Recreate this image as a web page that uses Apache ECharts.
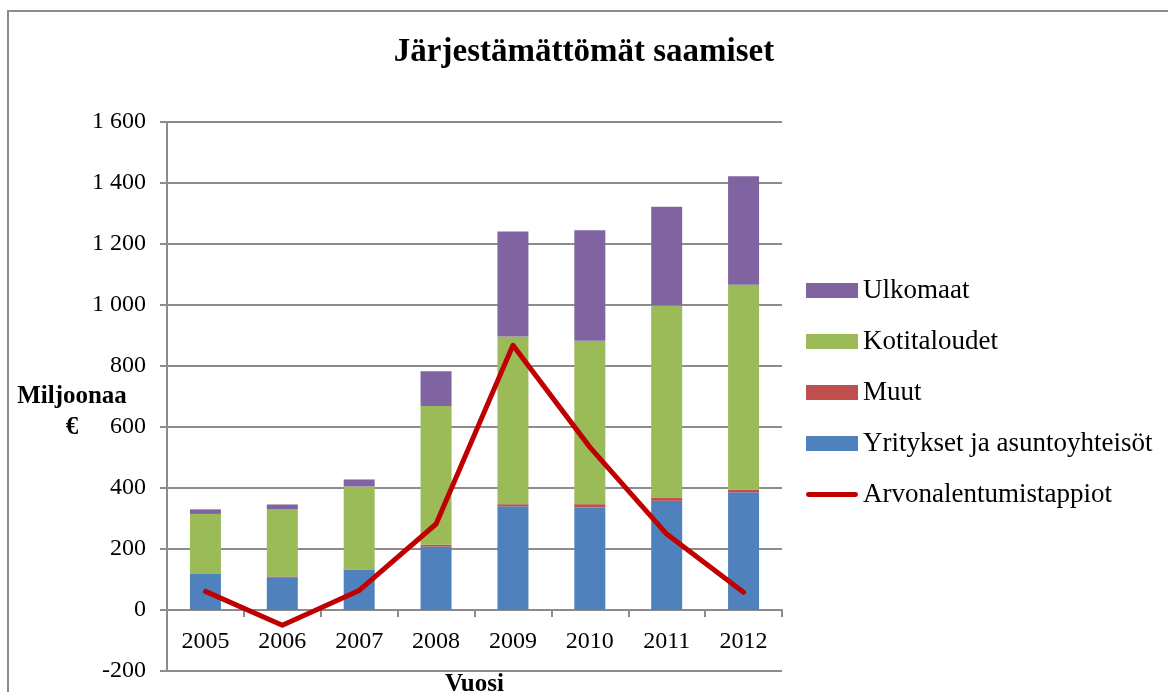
<!DOCTYPE html>
<html style="height: 100%">
   <head>
       <meta charset="utf-8">
   </head>
   <body style="height: 100%; margin: 0; background: #fff">
       <div id="container" style="width: 1168px; height: 692px"></div>
       <script type="text/javascript" src="https://cdn.jsdelivr.net/npm/echarts@6/dist/echarts.min.js"></script>
       <script type="text/javascript">
var years = ['2005', '2006', '2007', '2008', '2009', '2010', '2011', '2012'];
var yritykset = [118, 107, 131, 208, 340, 336, 358, 386];
var muut = [2, 3, 2, 6, 7, 11, 11, 9];
var kotitaloudet = [195, 220, 272, 455, 550, 536, 629, 671];
var ulkomaat = [15, 16, 23, 114, 344, 362, 324, 356];
var arvonalentumistappiot = [61, -50, 64, 282, 868, 534, 249, 58];

var font = 'Liberation Serif';
var dom = document.getElementById("container");
var myChart = echarts.init(dom);
var option = null;

function fmt(v) {
    var s = String(Math.abs(v));
    if (s.length > 3) s = s.slice(0, s.length - 3) + ' ' + s.slice(s.length - 3);
    return (v < 0 ? '-' : '') + s;
}

option = {
    animation: false,
    backgroundColor: '#fff',
    textStyle: { fontFamily: font },
    graphic: [{
        type: 'rect',
        shape: { x: 8, y: 11, width: 1200, height: 720 },
        style: { fill: 'none', stroke: '#8c8c8c', lineWidth: 2 },
        silent: true
    }, {
        // y axis title, wrapped over two lines like the original
        type: 'text',
        x: 72,
        y: 412,
        style: {
            text: 'Miljoonaa\n€',
            font: 'bold 25px "Liberation Serif"',
            fill: '#000',
            align: 'center',
            verticalAlign: 'middle',
            lineHeight: 31
        }
    }],
    title: {
        text: 'Järjestämättömät saamiset',
        left: 'center',
        top: 31,
        textStyle: { fontFamily: font, fontSize: 33, fontWeight: 'bold', color: '#000' }
    },
    legend: {
        orient: 'vertical',
        left: 801,
        top: 272,
        itemWidth: 52,
        itemHeight: 15,
        itemGap: 24,
        textStyle: { fontFamily: font, fontSize: 27, color: '#000' },
        data: [
            { name: 'Ulkomaat', icon: 'rect' },
            { name: 'Kotitaloudet', icon: 'rect' },
            { name: 'Muut', icon: 'rect' },
            { name: 'Yritykset ja asuntoyhteisöt', icon: 'rect' },
            { name: 'Arvonalentumistappiot', icon: 'path://M2,0 L50,0 A2.5,2.5 0 0 1 50,5 L2,5 A2.5,2.5 0 0 1 2,0 Z' }
        ]
    },
    grid: { left: 167, right: 386, top: 122, bottom: 21, containLabel: false, outerBoundsMode: 'none' },
    xAxis: {
        type: 'category',
        data: years,
        name: 'Vuosi',
        nameLocation: 'middle',
        nameGap: 1,
        nameTextStyle: { fontFamily: font, fontSize: 25, fontWeight: 'bold', color: '#000' },
        axisLine: { onZero: true, lineStyle: { color: '#8c8c8c', width: 2 } },
        axisTick: { show: true, length: 7, lineStyle: { color: '#8c8c8c', width: 2 } },
        axisLabel: { fontFamily: font, fontSize: 24, color: '#000', margin: -41 }
    },
    yAxis: {
        type: 'value',
        min: -200,
        max: 1600,
        interval: 200,
        axisLine: { show: true, lineStyle: { color: '#8c8c8c', width: 2 } },
        axisTick: { show: true, length: 7, lineStyle: { color: '#8c8c8c', width: 2 } },
        axisLabel: { fontFamily: font, fontSize: 24, color: '#000', margin: 21, formatter: fmt },
        splitLine: { lineStyle: { color: '#8c8c8c', width: 2 } }
    },
    series: [
        { name: 'Yritykset ja asuntoyhteisöt', type: 'bar', stack: 'a', barWidth: 31, data: yritykset, itemStyle: { color: '#4F81BD' } },
        { name: 'Muut', type: 'bar', stack: 'a', data: muut, itemStyle: { color: '#C0504D' } },
        { name: 'Kotitaloudet', type: 'bar', stack: 'a', data: kotitaloudet, itemStyle: { color: '#9BBB59' } },
        { name: 'Ulkomaat', type: 'bar', stack: 'a', data: ulkomaat, itemStyle: { color: '#8064A2' } },
        {
            name: 'Arvonalentumistappiot', type: 'line', data: arvonalentumistappiot,
            showSymbol: false, symbol: 'none',
            lineStyle: { color: '#C00000', width: 5, cap: 'round', join: 'round' },
            itemStyle: { color: '#C00000' }
        }
    ]
};

if (option && typeof option === "object") {
    myChart.setOption(option, true);
}
       </script>
   </body>
</html>
